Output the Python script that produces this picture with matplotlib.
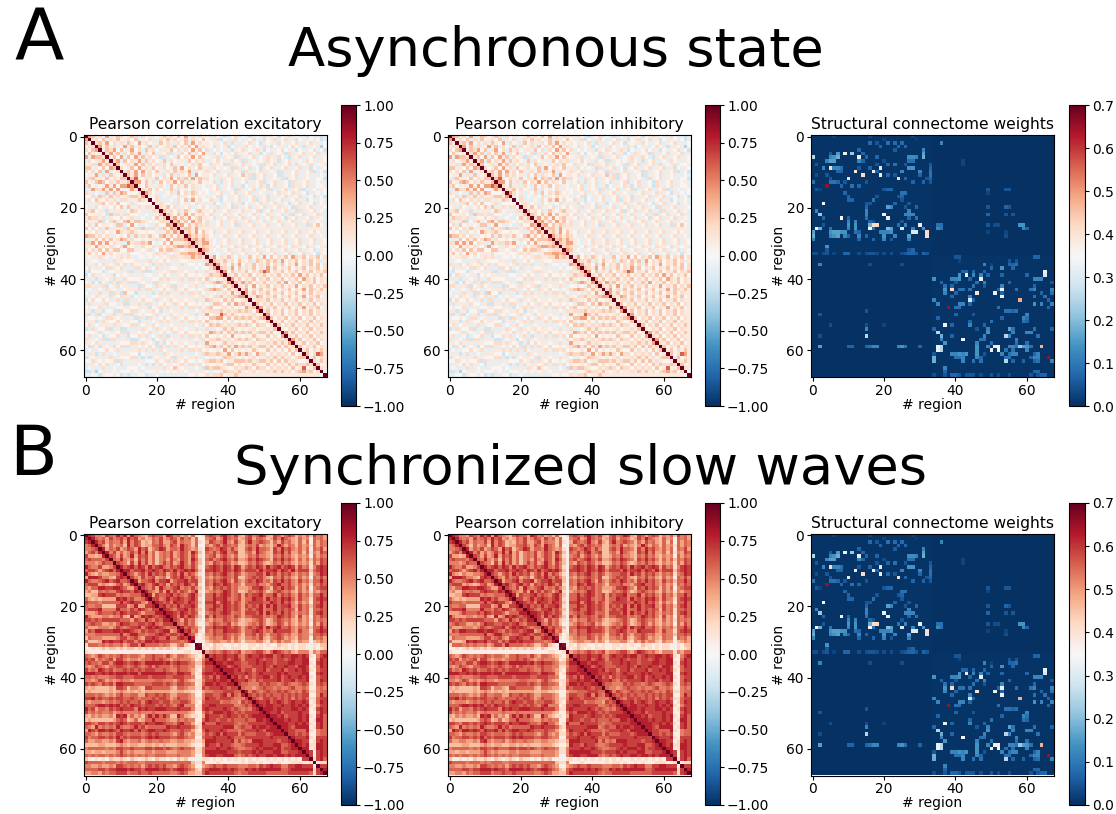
import numpy as np
import matplotlib
matplotlib.use("Agg")
import matplotlib.pyplot as plt

N = 68
W, H = 1116, 814
TITLE_A = "Asynchronous state"
TITLE_B = "Synchronized slow waves"
PANEL_TITLES = ["Pearson correlation excitatory", "Pearson correlation inhibitory", "Structural connectome weights"]
AXIS_LABEL = "# region"
TICKS = [0, 20, 40, 60]
CORR_TICKS = [-1, -.75, -.5, -.25, 0, .25, .5, .75, 1]
SC_TICKS = [0, .1, .2, .3, .4, .5, .6, .7]

# Values, one character per cell (upper triangle,
# starting right of the diagonal). Rows above 34: 'cols to 33|cols 34-67'.
# Rows from 34 in ROWS_B: 'cols to 63|cols 64-67'.
LEVELS_A = [-0.42, -0.3, -0.2, -0.1, 0.02, 0.1, 0.18, 0.28, 0.4, 0.6]
LEVELS_B = [-0.07, 0.07, 0.2, 0.3, 0.4, 0.5, 0.58, 0.68, 0.78, 0.9]

ROWS_A = [
"875648357645763643545736474856365|5364325463452345635424565435243323",
"56473657456473546356475645736547|4536243564354635245634635243543423",
"6758463657548364537465364758464|5435463253546342545364354635463534",
"847365485736457364563746574836|5463452435364543652435346452354314",
"57684735846375645357463648574|6345453254634565243546435243546342",
"6857364758364735462536475648|5364245463546352436545263546354635",
"574837485736452634574658475|4536354526354634565364325463546354",
"68374658375645736455374656|3546453645263454364525463543645354",
"7456384756463647354546374|4635426354635436254635463254365443",
"645748563745645738465475|5364545263546342546354635463524354",
"67584836475364736583645|6546353645263546354526354635462342",
"7584756453647365473845|5463546354736254635426354635435343",
"795463574658476758576|6453654635436254635436254635453442",
"88475637465847365474|5463254635463546254635426354635453",
"6475356437465746354|3546354635243546324635426354635443",
"657464537364546354|4546354526354635462354635462354354",
"86453546374657645|4354635463546354535463546354253434",
"5463435463546454|3546243546354635425354635463542342",
"463534364758464|4635243546354625463546354635243543",
"56345364534635|3524354635243546354635425463542343",
"6574635463546|4536354263546354635463542635463554",
"756463754675|5463546354635462546354635263546343",
"76475847456|4635463546354635463546362546354653",
"6847584675|5463546354635463546354254635463543",
"785748574|6354635463546354635463546354635453",
"78475765|6354635426354635463546354635264743",
"677584 6"[:0]+"677585",
"675847|5463546354635463546354635463546453",
"86757|6435463546354635463546354635463543",
"7868|6543546354635463546354635463546354",
"768|8543546354635463546354635463546354",
"67|6354635463546354635463546354635453",
"8|7543546354635463546354635463546354",
"|6354354635463546354635463546354254",
"684657546357465847465748657465746",
"76573647546376475738465746574635",
"8564738465746374657465846574746",
"765847365746385746574657465746",
"84736574657984657465746574657",
"6574657465746574657485746574",
"857465746574657465748657465",
"75867465746375846574657465",
"6574846574657465846574657",
"68465746574657465847657",
"8574657465746574657465",
"658746574657465846574",
"56657465746574657465",
"7465746574657465746",
"846574657465846574",
"57465746574657465",
"8465746574657465",
"746574657465746",
"65746574657465",
"7465746574657",
"546574657465",
"85746574657",
"6574657465",
"857465746",
"65746574",
"7465746",
"574657",
"74698",
"5746",
"657",
"74",
"6",
]

ROWS_B = [
"875547658684865436766487564536212|6765786574367568743764676354637564",
"865647567586745346574576475636112|5674586563467466534758654364516564",
"86746557485763436574467465536212|4765685474368567653647564363616465",
"7536456385763446675476486536112|5467576563356574543586465364526465",
"846574576486735687466586545213|7656875753367586653758675464616574",
"85746457585846356574576486312|6575785673356486543768574463625476",
"7647458476746356574576475212|5674675463346575543657564354516465",
"658546375746356475476486313|6756786574457687653768675364636576",
"76537485746357574586475312|5476576453346576434657564354526476",
"8678687586786576786575213|6787687587467687586786787475625787",
"886778678768768678786312|7787687687577768677868768577736787",
"76467586767467585764212|6576786576456677586757675465625687",
"7547567456367686575312|5465676573356767543657564364516575",
"846678577846778677312|6576786475467687564768675475636686",
"78657867476768757212|6587687565366675546786675464526576",
"7657486567856575312|5476767564445778653768676364615677",
"865474857576468212|4565687563346567534676564364525466",
"84766786765786312|6686787567476778566857675475636686",
"7756867876786212|6687786567466877586768786475526787",
"876758776876312|7785787576467777668768675364516686",
"78676867786212|6687687676476768586867785475636786",
"8765778675312|6786687676467678566867676375626676",
"887687676212|5676787566477768586768675465626786",
"87586875312|7586676576466777565687675374516576",
"7647563212|5465576564344567534676564364526565",
"657563112|4576567453345657534576464354516475",
"86765312|6687787676467678586786675465636686",
"7856212|6576687776466787565877775475526787",
"76312|5576676565366757546676564465536676",
"8212|4565576464355657435676454365516564",
"111|3455445354244455325464553254413454",
"91|2132211212112212121132212122112133",
"2|1232121222112122111221212122012123",
"|4565676567455677546876564355525466",
"78778778657877878867877887872|1578",
"8778678757778767767767877881|1687",
"887887766778787767778877882|1787",
"88678766677787687787768871|2687",
"8887867757786777867787872|1677",
"887778767877778787777881|1787",
"78675767788678678778782|1677",
"8778657677778677867781|1687",
"766555767665676556762|1676",
"65545676656556755651|1565",
"8576567667676565762|2566",
"767676766767676771|1586",
"76577676767576762|2677",
"8778678767877871|2687",
"878877877878782|1577",
"88878777887871|2787",
"8778677778771|1687",
"887867778782|1786",
"88878778781|2886",
"8887787872|1786",
"887688881|2786",
"87766682|1566",
"7767671|1566",
"877782|1777",
"88771|2787",
"8782|2887",
"881|2887",
"87|1787",
"7|1787",
"|2786",
"122",
"77",
"8",
]

STRUCT_ROWS = {
0: "6:3 16:3 28:3", 1: "20:3 29:2", 2: "16:8 21:9 23:8 25:8 36:12 18:5",
3: "19:7 24:7 26:7", 4: "13:7 23:6 31:12",
5: "5:6 7:15 9:33 11:22 14:7 31:16",
6: "0:25 5:12 6:14 7:18 13:33 15:7 18:7 27:13 28:13 29:12 31:18",
7: "4:12 5:16 6:16 13:12 14:7 20:4 27:9 28:9 42:3",
8: "1:5 18:5 21:7 23:9 26:5 33:5 42:3",
9: "3:12 5:42 6:12 7:12 8:9 13:5 16:7 19:30 27:14 28:14 33:7",
10: "7:7 8:7 12:38 17:33 18:7 25:12 30:12 33:9",
11: "1:4 4:5 14:42 19:33 21:7 23:5 30:7 33:9",
12: "5:5 10:30 24:42 26:7 32:5 33:7",
13: "0:9 5:9 6:9 7:7 9:5 15:5 28:7 31:7 33:5",
14: "4:65 8:7 11:9 13:7", 15: "1:5 2:3 20:5 21:7 22:7 49:5 54:5 55:5",
16: "9:7 25:9 26:9 49:3", 17: "10:7 18:5 24:5 25:7",
18: "10:7 11:7 17:9 25:5", 19: "3:35 15:5 16:5 23:7 27:5",
20: "15:7 21:16 22:12 26:5 29:7 49:5 54:7 55:5", 21: "1:12 15:12 27:12",
22: "2:22 15:12 20:33 26:12 27:12 28:12 49:7 54:5 56:5",
23: "3:7 8:35 10:7 15:9 21:33 27:7 29:9",
24: "10:12 12:12 16:7 17:5 25:5",
25: "3:5 10:14 12:14 16:18 17:42 18:42 24:9 26:12 30:33 35:9 36:9 49:5 51:4 52:4 58:14 59:14",
26: "1:33 2:18 5:9 10:12 12:14 16:35 17:9 21:20 22:16 25:30 28:12 31:14 35:12 36:9 59:12 60:7",
27: "0:16 5:14 6:16 7:16 8:14 9:14 12:9 13:7 19:12 20:12 21:12 22:14 28:30 29:30 32:42 49:3 54:3",
28: "0:18 5:12 6:14 7:16 9:12 10:7 13:12 15:7 20:14 23:12 27:16 32:42 54:4",
29: "0:12 13:7 17:7 20:12 22:5 27:12", 31: "4:14", 32: "4:5 27:5 28:7",
33: "0:4 1:4 3:4 4:5 6:3 9:7 10:7 13:4 15:4 16:5 17:5 18:4 20:4 22:4 25:4 26:5 27:7 28:7 29:5 31:7 32:5",
34: "40:5 41:5 62:7 63:7", 35: "41:3 55:5 57:5",
36: "2:12 16:4 25:4 48:12 50:3 55:7 56:7 57:9", 37: "50:7 53:14 56:7",
38: "42:7 43:7 45:7 48:7 65:33",
39: "41:14 43:33 45:12 47:12 49:7 53:7 60:7 65:30",
40: "34:14 39:12 40:12 41:14 44:7 47:33 62:12 63:12 64:12",
41: "36:7 40:5 46:9 48:12 55:7 67:5", 42: "37:9 39:7 45:9 48:5 53:12 62:7",
43: "37:14 39:42 41:9 42:9 44:9 52:7 53:33 57:9 61:9 62:12 67:12",
44: "37:12 40:7 46:40 51:33 53:7 64:7 67:9", 45: "39:7 44:12 53:33 62:9 65:9",
46: "34:12 44:28 45:7 58:48 66:7", 47: "35:12 41:12 42:12 44:7 62:14 64:12 67:12",
48: "38:65 40:9 41:9 52:9 66:7", 49: "15:5 54:9 55:9 56:7 57:9",
50: "2:5 40:7 45:5 60:12", 51: "35:7 53:7 59:12 60:9", 52: "44:7 50:9 59:9 60:7",
53: "5:4 15:4 20:3 37:33 39:7 44:12 48:7",
54: "15:12 34:7 46:5 49:12 55:16 56:9 62:9 67:7", 55: "35:25 49:14 56:12 60:12 61:12",
56: "2:4 15:25 36:18 39:7 48:12 54:25 55:12 63:9", 57: "36:12 42:35 47:9 48:9 57:12",
58: "37:14 46:12 50:9 57:9 60:9",
59: "2:16 10:7 11:7 15:7 16:9 17:12 18:12 24:12 25:14 26:9 30:7 35:33 36:25 46:14 49:12 51:38 52:38 55:12 56:12 57:9 58:22 59:16 60:14 61:9 64:47",
60: "35:33 36:25 46:14 50:33 52:35 54:9 56:9 60:12",
61: "34:5 39:12 40:12 41:14 42:12 43:14 46:14 48:5 53:12 55:9 56:12 57:12 62:7 63:12",
62: "34:18 40:9 41:9 42:12 46:12 47:7 54:9 55:9 61:7 62:12 63:12 66:65",
63: "34:18 42:12 45:9 47:9 54:25 56:7 59:7 62:7 63:9 67:12",
65: "37:12", 66: "37:7 62:7 63:7",
67: "34:4 37:5 39:7 40:7 41:5 43:5 44:5 45:5 47:4 50:5 52:4 55:4 61:5 63:5 64:7 65:7",
}
SC_WITHIN_FLOOR = 0.008
SC_ACROSS_FLOOR = 0.004


def corr_matrix(rows, levels, fill):
    m = np.eye(N)
    for i, s in enumerate(rows[:N - 1]):
        if "|" in s:
            left, right = s.split("|")
            if i < 34:
                left = left.ljust(33 - i, fill)[:33 - i]
                right = right.ljust(34, fill)[:34]
            else:
                left = left.ljust(63 - i, fill)[:max(63 - i, 0)]
                right = right.ljust(4, fill)[:4]
            s = left + right
        s = s.ljust(N - 1 - i, fill)[:N - 1 - i]
        for k, ch in enumerate(s):
            m[i, i + 1 + k] = m[i + 1 + k, i] = levels[int(ch)]
    return m


def struct_matrix(rows):
    m = np.full((N, N), SC_ACROSS_FLOOR)
    m[:34, :34] = SC_WITHIN_FLOOR
    m[34:, 34:] = SC_WITHIN_FLOOR
    for r, s in rows.items():
        for item in s.split():
            c, v = item.split(":")
            m[r, int(c)] = int(v) / 100
    return m


CORR_A = corr_matrix(ROWS_A, LEVELS_A, "5")
CORR_B = corr_matrix(ROWS_B, LEVELS_B, "5")
SC = struct_matrix(STRUCT_ROWS)

plt.rcParams["font.family"] = "DejaVu Sans"
fig = plt.figure(figsize=(W / 100, H / 100), dpi=100)


def box(x0, y0, x1, y1):
    return [x0 / W, 1 - y1 / H, (x1 - x0) / W, (y1 - y0) / H]


AX_X = [(84, 326.5), (448, 690.5), (811, 1053.5)]
CB_X = [(341, 356), (705, 720), (1069, 1085)]
ROW_Y = [((135, 377), (105, 406)), ((533.5, 775.5), (503, 805))]
DATA = [[CORR_A, CORR_A, SC], [CORR_B, CORR_B, SC]]

for (ay, cy), mats in zip(ROW_Y, DATA):
    for j, mat in enumerate(mats):
        ax = fig.add_axes(box(AX_X[j][0], ay[0], AX_X[j][1], ay[1]))
        is_sc = j == 2
        vmin, vmax = (0, 0.7) if is_sc else (-1, 1)
        im = ax.imshow(mat, cmap="RdBu_r", vmin=vmin, vmax=vmax, aspect="auto", interpolation="nearest")
        ax.set_xticks(TICKS)
        ax.set_yticks(TICKS)
        ax.tick_params(labelsize=10, length=3, pad=2)
        ax.set_title(PANEL_TITLES[j], fontsize=11.2, pad=4)
        ax.set_xlabel(AXIS_LABEL, fontsize=10, labelpad=0)
        ax.set_ylabel(AXIS_LABEL, fontsize=10, labelpad=0)
        cax = fig.add_axes(box(CB_X[j][0], cy[0], CB_X[j][1], cy[1]))
        cb = fig.colorbar(im, cax=cax)
        ticks = SC_TICKS if is_sc else CORR_TICKS
        cb.set_ticks(ticks)
        fmt = "{:.1f}" if is_sc else "{:.2f}"
        cb.set_ticklabels([fmt.format(t).replace("-", "\u2212") for t in ticks])
        cb.ax.tick_params(labelsize=10, length=3, pad=2)

fig.text(556 / W, 1 - 51 / H, TITLE_A, fontsize=39.2, ha="center", va="center")
fig.text(581 / W, 1 - 469 / H, TITLE_B, fontsize=39.2, ha="center", va="center")
fig.text(39 / W, 1 - 40 / H, "A", fontsize=52, ha="center", va="center")
fig.text(33 / W, 1 - 455 / H, "B", fontsize=50, ha="center", va="center")

fig.savefig("out.png", dpi=100)
